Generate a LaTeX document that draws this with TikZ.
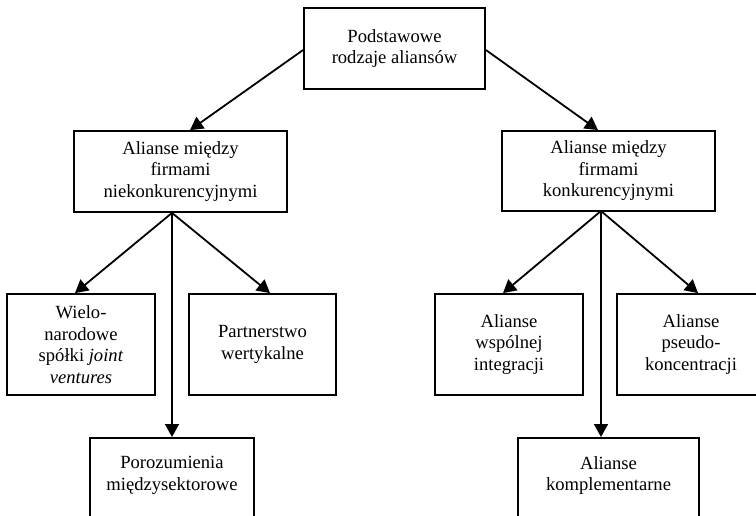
\documentclass[tikz,border=0pt]{standalone}
\usepackage{fontspec}
\setmainfont{Liberation Serif}
\usetikzlibrary{arrows.meta,calc}
\begin{document}
\begin{tikzpicture}[x=1pt,y=-1pt,
  box/.style={draw,line width=1.8pt,rectangle,inner sep=0pt,align=center,
    font=\fontsize{18.6pt}{21.5pt}\selectfont},
  txt/.style={inner sep=0pt,align=center,font=\fontsize{18.6pt}{21.5pt}\selectfont},
  arr/.style={line width=1.8pt,-{Triangle[length=13pt,width=14pt]}}]
\useasboundingbox (0,0) rectangle (756,516);
\clip (0,0) rectangle (756,516);
% boxes
\node[box,minimum width=181pt,minimum height=81pt] (top) at (394.5,48.5) {Podstawowe\\rodzaje aliansów};
\node[box,minimum width=213pt,minimum height=81pt] (lm) at (180.5,171.5) {Alianse między\\firmami\\niekonkurencyjnymi};
\node[box,minimum width=213pt,minimum height=80pt] (rm) at (608.5,171) {Alianse między\\firmami\\konkurencyjnymi};
\node[box,minimum width=148pt,minimum height=101pt] (wn) at (81,344.5) {Wielo-\\narodowe\\spółki \textit{joint}\\\textit{ventures}};
\node[box,minimum width=147pt,minimum height=101pt] (pw) at (262.5,344.5) {Partnerstwo\\wertykalne};
\node[box,minimum width=148pt,minimum height=101pt] (wi) at (509,344.5) {Alianse\\wspólnej\\integracji};
\node[box,minimum width=148pt,minimum height=101pt] (pk) at (691,344.5) {Alianse\\pseudo-\\koncentracji};
\node[box,minimum width=164pt,minimum height=100pt,anchor=north] (pm) at (172,437) {};
\node[txt] (pmt) at (172,475.5) {Porozumienia\\międzysektorowe};
\node[box,minimum width=181pt,minimum height=100pt,anchor=north] (ko) at (608.5,437) {};
\node[txt] (kot) at (608.5,475.5) {Alianse\\komplementarne};
% connector points
\coordinate (topL) at (top.west |- 0,50);
\coordinate (topR) at (top.east |- 0,50);
\coordinate (lmS) at (pm.north |- lm.south);
\coordinate (rmS) at (601,211);
% connectors
\draw[arr] (topL) -- ([xshift=9.5pt]lm.north);
\draw[arr] (topR) -- ([xshift=-10.5pt]rm.north);
\draw[arr] (lmS) -- ([xshift=-6pt]wn.north);
\draw[arr] (lmS) -- ([xshift=7.5pt]pw.north);
\draw[arr] (lmS) -- (pm.north);
\draw[arr] (rmS) -- ([xshift=-6pt]wi.north);
\draw[arr] (rmS) -- ([xshift=7pt]pk.north);
\draw[arr] (rmS) -- (rmS |- ko.north);
\end{tikzpicture}
\end{document}
